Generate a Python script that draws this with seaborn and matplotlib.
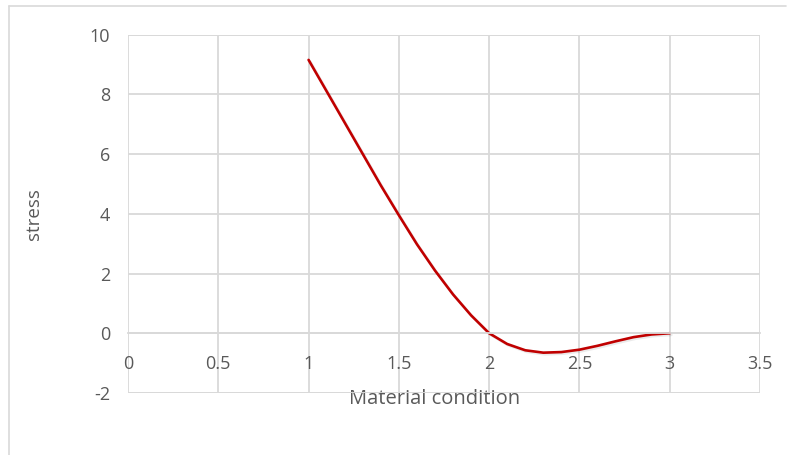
import matplotlib.pyplot as plt
import matplotlib.patheffects as pe
from matplotlib.lines import Line2D
import seaborn as sns
import pandas as pd

# values
material_condition = [1.0, 1.1, 1.2, 1.3, 1.4, 1.5, 1.6, 1.7, 1.8, 1.9, 2.0,
                      2.1, 2.2, 2.3, 2.4, 2.5, 2.6, 2.7, 2.8, 2.9, 3.0]
stress = [9.15, 8.1, 7.05, 6.0, 4.95, 3.95, 2.98, 2.1, 1.3, 0.6, 0.0,
          -0.36, -0.57, -0.65, -0.63, -0.55, -0.42, -0.27, -0.13, -0.04, 0.0]
x_ticks = [0, 0.5, 1, 1.5, 2, 2.5, 3, 3.5]
x_tick_labels = ["0", "0.5", "1", "1.5", "2", "2.5", "3", "3.5"]
y_ticks = [-2, 0, 2, 4, 6, 8, 10]

df = pd.DataFrame({"Material condition": material_condition, "stress": stress})

sns.set_style("white")
plt.rcParams['font.family'] = ['Open Sans', 'DejaVu Sans']
plt.rcParams['axes.unicode_minus'] = False

grid_col = "#d9d9d9"
text_col = "#595959"

fig = plt.figure(figsize=(7.93, 4.55), dpi=100)
ax = fig.add_axes([128 / 793, 1 - 393 / 455, 632 / 793, 358.5 / 455])

sns.lineplot(data=df, x="Material condition", y="stress", ax=ax,
             color="#C00000", linewidth=1.9, sort=False,
             path_effects=[pe.SimpleLineShadow(offset=(1.2, -1.2), alpha=0.08), pe.Normal()])

ax.set_xlim(0, 3.5)
ax.set_ylim(-2, 10)
ax.set_xticks(x_ticks)
ax.set_xticklabels(x_tick_labels)
ax.set_yticks(y_ticks)

ax.grid(True, color=grid_col, linewidth=1.3)
for s in ["top", "right", "left"]:
    ax.spines[s].set_visible(False)
ax.spines["bottom"].set_position(("data", 0))
ax.spines["bottom"].set_color(grid_col)
ax.spines["bottom"].set_linewidth(1.3)
# frame lines of the plot area
ax.axhline(-2, color=grid_col, linewidth=1.3, zorder=0)
ax.axhline(10, color=grid_col, linewidth=1.3, zorder=0)

ax.tick_params(axis="both", length=0, labelsize=13, labelcolor=text_col)
ax.tick_params(axis="x", pad=16)
ax.tick_params(axis="y", pad=13)

ax.set_xlabel("Material condition", fontsize=14.5, color=text_col)
ax.xaxis.set_label_coords(0.485, 0.012)
ax.set_ylabel("stress", fontsize=13.5, color=text_col)
ax.yaxis.set_label_coords(-0.135, 0.5)

# outer chart border (top and left edges visible)
fig.add_artist(Line2D([9 / 793, 9 / 793], [0, 1 - 6 / 455], color=grid_col, linewidth=1.2))
fig.add_artist(Line2D([9 / 793, 786 / 793], [1 - 6 / 455, 1 - 6 / 455], color=grid_col, linewidth=1.2))

fig.savefig("out.png", dpi=100)
